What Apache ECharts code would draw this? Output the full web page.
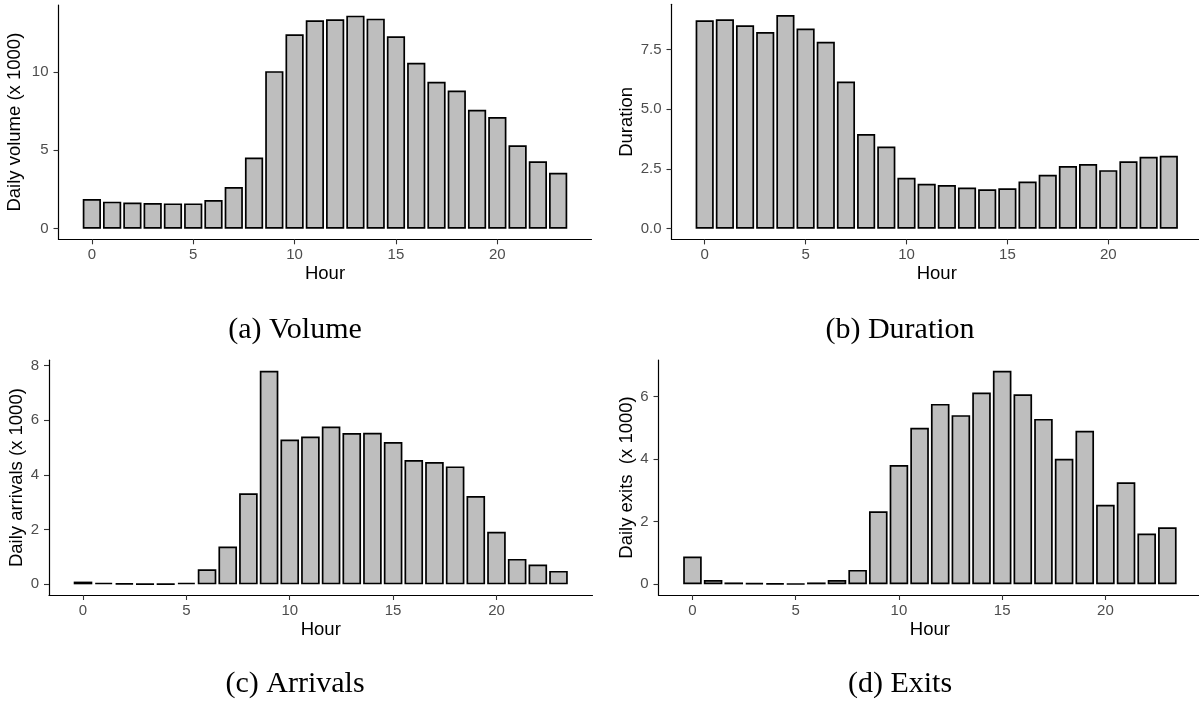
<!DOCTYPE html>
<html>
<head>
<meta charset="utf-8">
<script src="https://cdn.jsdelivr.net/npm/echarts@6/dist/echarts.min.js"></script>
<style>
html,body{margin:0;padding:0;background:#fff;}
#chart{width:1199px;height:704px;}
</style>
</head>
<body>
<div id="chart"></div>
<script>
// ---- data ----
const hours = [0,1,2,3,4,5,6,7,8,9,10,11,12,13,14,15,16,17,18,19,20,21,22,23];
const volume = [1.89,1.72,1.67,1.63,1.61,1.61,1.82,2.65,4.53,10.04,12.39,13.28,13.35,13.58,13.39,12.27,10.57,9.36,8.81,7.58,7.12,5.32,4.30,3.56];
const duration = [8.72,8.76,8.51,8.23,8.94,8.37,7.82,6.16,3.96,3.44,2.13,1.88,1.83,1.72,1.65,1.69,1.97,2.26,2.62,2.71,2.45,2.82,3.01,3.05];
const arrivals = [0.10,0.06,0.04,0.02,0.02,0.06,0.55,1.38,3.33,7.80,5.29,5.40,5.77,5.53,5.54,5.20,4.54,4.47,4.31,3.23,1.92,0.93,0.72,0.49];
const exits = [0.89,0.14,0.06,0.04,0.03,0.02,0.06,0.14,0.46,2.33,3.81,5.00,5.76,5.40,6.12,6.82,6.07,5.28,4.01,4.90,2.54,3.26,1.62,1.82];

const hourTicks = [0,5,10,15,20];
const volumeTicks = [0,5,10];
const durationTicks = [0,2.5,5,7.5];
const arrivalsTicks = [0,2,4,6,8];
const exitsTicks = [0,2,4,6];

const yTitles = ['Daily volume (x 1000)','Duration','Daily arrivals (x 1000)','Daily exits  (x 1000)'];
const xTitle = 'Hour';
const captions = ['(a) Volume','(b) Duration','(c) Arrivals','(d) Exits'];

// ---- layout / style ----
const panels = [
  {values: volume,   ticks: volumeTicks,   decimals: 0, grid:{left:58.5, top:5,    width:533,   height:234.3}, nameGap:34},
  {values: duration, ticks: durationTicks, decimals: 1, grid:{left:671.5,top:4.3,  width:530.5, height:235.1}, nameGap:35},
  {values: arrivals, ticks: arrivalsTicks, decimals: 0, grid:{left:49,   top:360.2,width:543.5, height:234.8}, nameGap:22},
  {values: exits,    ticks: exitsTicks,    decimals: 0, grid:{left:658.5,top:360,  width:542.8, height:235},   nameGap:21}
];
const captionPos = [[295,330],[900,330],[295,684],[900,684]];

const sans = 'Liberation Sans, Arial, sans-serif';
const barW = 0.9;
const lo = hours[0] - barW/2, hi = hours[hours.length-1] + barW/2;
const xPad = 0.05*(hi-lo);

const grid = [], xAxis = [], yAxis = [], series = [];
panels.forEach((p, i) => {
  grid.push(Object.assign({containLabel:false, outerBoundsMode:'none'}, p.grid));
  xAxis.push({
    type:'value', gridIndex:i, min: lo - xPad, max: hi + xPad,
    axisLine:{show:true, onZero:false, lineStyle:{color:'#000', width:1.2}},
    axisTick:{show:true, customValues:hourTicks, length:5, lineStyle:{color:'#333', width:1.1}},
    axisLabel:{show:true, customValues:hourTicks, color:'#4d4d4d', fontSize:15, margin:8, fontFamily:sans},
    splitLine:{show:false},
    name:xTitle, nameLocation:'middle', nameGap:25.5,
    nameTextStyle:{color:'#000', fontSize:18.5, fontFamily:sans}
  });
  const mx = Math.max(...p.values);
  yAxis.push({
    type:'value', gridIndex:i, min: -0.05*mx, max: 1.05*mx,
    axisLine:{show:true, onZero:false, lineStyle:{color:'#000', width:1.2}},
    axisTick:{show:true, customValues:p.ticks, length:5, lineStyle:{color:'#333', width:1.1}},
    axisLabel:{show:true, customValues:p.ticks, color:'#4d4d4d', fontSize:15, margin:10, fontFamily:sans,
      formatter: v => Number(v).toFixed(p.decimals)},
    splitLine:{show:false},
    name:yTitles[i], nameLocation:'middle', nameGap:p.nameGap,
    nameTextStyle:{color:'#000', fontSize:18.5, fontFamily:sans}
  });
  series.push({
    type:'bar', xAxisIndex:i, yAxisIndex:i,
    data: hours.map((h, k) => [h, p.values[k]]),
    barWidth:'90%',
    itemStyle:{color:'#bebebe', borderColor:'#000', borderWidth:1.7},
    emphasis:{disabled:true},
    animation:false
  });
});

const chart = echarts.init(document.getElementById('chart'), null, {renderer:'canvas'});
chart.setOption({
  animation:false,
  backgroundColor:'#fff',
  grid, xAxis, yAxis, series,
  graphic: captions.map((c, i) => ({
    type:'text', x:captionPos[i][0], y:captionPos[i][1],
    style:{text:c, font:'30px "Liberation Serif", "Times New Roman", serif', fill:'#000',
      align:'center', verticalAlign:'middle'}
  }))
});
</script>
</body>
</html>
